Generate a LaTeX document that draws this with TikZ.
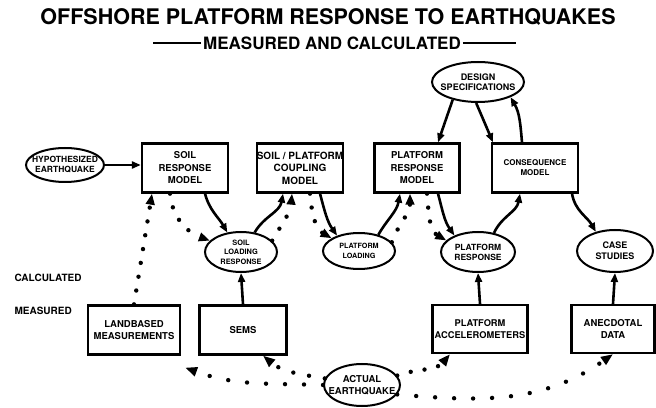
\documentclass[tikz,border=0pt]{standalone}
\usepackage{fontspec}
\setmainfont{TeX Gyre Heros}
\usetikzlibrary{shapes.geometric, arrows.meta}

\begin{document}
\begin{tikzpicture}[
    x=1pt, y=1pt,
    font=\bfseries,
    caja/.style={rectangle, draw, line width=2.3pt, inner sep=0pt, align=center,
      minimum width=86pt, minimum height=49pt, font=\bfseries\fontsize{9.5}{12.5}\selectfont},
    ovalo/.style={ellipse, draw, line width=2pt, inner sep=0pt},
    txtovalo/.style={align=center, font=\bfseries\fontsize{8.5}{10}\selectfont},
    flecha/.style={line width=2.6pt, -{Triangle[length=9pt, width=7pt]}},
    puntos/.style={line width=4.4pt, line cap=round, dash pattern=on 0pt off 14pt,
      -{Triangle[length=11pt, width=8.5pt]}}
  ]
    \useasboundingbox (0,0) rectangle (656,407);

    % --- TITULO ---
    \node[font=\bfseries\fontsize{21.5}{22}\selectfont] (titulo) at (328,390)
      {OFFSHORE PLATFORM RESPONSE TO EARTHQUAKES};
    \node[font=\bfseries\fontsize{17}{18}\selectfont, inner sep=1pt] (subtitulo) at (332,364)
      {MEASURED AND CALCULATED};
    \draw[line width=2.8pt] ([xshift=-1pt]subtitulo.west) -- ++(-48,0);
    \draw[line width=2.8pt] ([xshift=1pt]subtitulo.east) -- ++(53,0);

    % --- NIVELES ---
    \node[anchor=west, font=\bfseries\fontsize{10}{10}\selectfont] (calc) at (11,129) {CALCULATED};
    \node[anchor=west, font=\bfseries\fontsize{10}{10}\selectfont] (meas) at (11,96) {MEASURED};

    % --- MODELOS (fila de arriba) ---
    \node[caja] (soilmodel) at (185,239) {SOIL\\RESPONSE\\MODEL};
    \node[caja, minimum width=85pt, font=\bfseries\fontsize{10}{12.5}\selectfont] (coupmodel) at (300,239)
      {SOIL / PLATFORM\\COUPLING\\MODEL};
    \node[caja, minimum width=85pt] (platmodel) at (417,239) {PLATFORM\\RESPONSE\\MODEL};
    \node[caja, font=\bfseries\fontsize{8}{10}\selectfont] (consmodel) at (535,239) {CONSEQUENCE\\MODEL};

    % --- OVALOS ---
    \node[ovalo, minimum width=78pt, minimum height=34pt,
      label={[txtovalo]center:HYPOTHESIZED\\EARTHQUAKE}] (hypo) at (65,242) {};
    \node[ovalo, minimum width=92pt, minimum height=40pt,
      label={[txtovalo, font=\bfseries\fontsize{9}{10.5}\selectfont]center:DESIGN\\SPECIFICATIONS}] (design) at (478,325) {};
    \node[ovalo, minimum width=72pt, minimum height=40pt,
      label={[txtovalo, font=\bfseries\fontsize{7.4}{9.5}\selectfont]center:SOIL\\LOADING\\RESPONSE}] (soilload) at (241,155) {};
    \node[ovalo, minimum width=72pt, minimum height=36pt,
      label={[txtovalo, font=\bfseries\fontsize{7.2}{10}\selectfont]center:PLATFORM\\LOADING}] (platload) at (359,156) {};
    \node[ovalo, minimum width=74pt, minimum height=40pt,
      label={[txtovalo]center:PLATFORM\\RESPONSE}] (platresp) at (478,155) {};
    \node[ovalo, minimum width=76pt, minimum height=42pt,
      label={[txtovalo, font=\bfseries\fontsize{9}{11}\selectfont]center:CASE\\STUDIES}] (case) at (615,156) {};
    \node[ovalo, minimum width=76pt, minimum height=42pt,
      label={[txtovalo, font=\bfseries\fontsize{9.5}{11.5}\selectfont]center:ACTUAL\\EARTHQUAKE}] (actual) at (362,22) {};

    % --- MEDICIONES (fila de abajo) ---
    \node[caja, minimum width=92pt] (landbased) at (134,77) {LANDBASED\\MEASUREMENTS};
    \node[caja, minimum width=87pt] (sems) at (243,77) {SEMS};
    \node[caja, minimum width=95pt, minimum height=48pt, font=\bfseries\fontsize{9.3}{12}\selectfont] (accel) at (480,78)
      {PLATFORM\\ACCELEROMETERS};
    \node[caja, minimum width=83pt, minimum height=48pt] (anec) at (613,78) {ANECDOTAL\\DATA};

    % --- FLECHAS CALCULADAS ---
    \draw[flecha] (hypo.east) -- (hypo.east -| soilmodel.west);
    \draw[flecha] ([xshift=20pt]soilmodel.south) to[out=-75, in=120] (soilload.125);
    \draw[flecha] (soilload.55) to[out=60, in=-100] ([xshift=-17pt]coupmodel.south);
    \draw[flecha] ([xshift=20pt]coupmodel.south) to[out=-75, in=125] (platload.145);
    \draw[flecha] (platload.40) to[out=60, in=-100] ([xshift=-17pt]platmodel.south);
    \draw[flecha] ([xshift=21pt]platmodel.south) to[out=-75, in=125] (platresp.145);
    \draw[flecha] (platresp.50) to[out=65, in=-100] ([xshift=-15pt]consmodel.south);
    \draw[flecha] ([xshift=37pt]consmodel.south) to[out=-80, in=120] (case.135);

    % especificaciones de diseno
    \draw[flecha] (design.215) -- ([xshift=21pt]platmodel.north);
    \draw[flecha] (design.265) -- ([xshift=-42pt]consmodel.north);
    \draw[flecha] ([xshift=-13pt]consmodel.north) to[out=95, in=-60] (design.335);

    % mediciones hacia arriba
    \draw[flecha] (sems.north) -- (soilload.south);
    \draw[flecha] (accel.north) -- (platresp.south);
    \draw[flecha] (anec.north) -- (case.south);

    % --- LINEAS DE PUNTOS ---
    \draw[puntos] (landbased.north) -- ([xshift=-33pt]soilmodel.south);
    \draw[puntos] ([xshift=-15pt]soilmodel.south) to[out=-85, in=160] (soilload.160);
    \draw[puntos] (soilload.20) to[out=60, in=-95] ([xshift=-8pt]coupmodel.south);
    \draw[puntos] ([xshift=10pt]coupmodel.south) to[out=-85, in=150] (platload.155);
    \draw[puntos] (platload.15) to[out=70, in=-90] ([xshift=-7pt]platmodel.south);
    \draw[puntos] ([xshift=10pt]platmodel.south) to[out=-85, in=150] (platresp.160);

    % desde el sismo real
    \draw[puntos, dash pattern=on 0pt off 19pt, -{Triangle[length=12pt, width=9pt]}]
      (actual.west) to[out=178, in=-20] ([shift={(4pt,-12pt)}]landbased.south east);
    \draw[puntos, dash pattern=on 0pt off 16pt, -{Triangle[length=12pt, width=9pt]}]
      (actual.170) to[out=170, in=-40] ([xshift=20pt]sems.south);
    \draw[puntos, dash pattern=on 0pt off 14pt, -{Triangle[length=12pt, width=9pt]}]
      (actual.15) to[out=20, in=-130] ([xshift=-30pt]accel.south);
    \draw[puntos, dash pattern=on 0pt off 19pt, -{Triangle[length=12pt, width=9pt]}]
      (actual.345) to[out=-5, in=-145] (anec.south);

\end{tikzpicture}
\end{document}
